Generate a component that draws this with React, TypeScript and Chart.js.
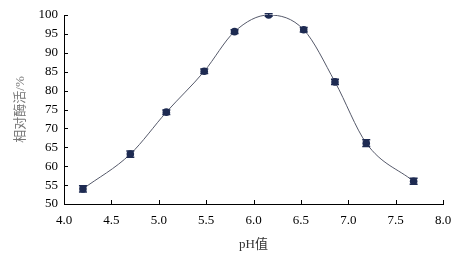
import React, { useEffect, useRef } from "react";
import { Chart, registerables } from "chart.js";

Chart.register(...registerables);

const phValues = [4.2, 4.7, 5.08, 5.48, 5.8, 6.16, 6.53, 6.86, 7.19, 7.69];
const activity = [54.0, 63.2, 74.3, 85.1, 95.6, 100.0, 96.1, 82.3, 66.1, 56.0];
const errors = [0.8, 0.8, 0.6, 0.6, 0.5, 0.3, 0.6, 0.7, 0.9, 0.8];
const xTickMin = 4.0;
const xTickMax = 8.0;
const yTickMin = 50;
const yTickMax = 100;

const FONT = "'Liberation Serif', 'Times New Roman', serif";
const CJK = "'Liberation Serif', 'Noto Sans CJK SC', serif";

const errorBarPlugin = {
  id: "errorBars",
  afterDatasetsDraw(chart: any) {
    const ctx = chart.ctx;
    const xs = chart.scales.x;
    const ys = chart.scales.y;
    ctx.save();
    ctx.strokeStyle = "#1e2b52";
    ctx.lineWidth = 1.5;
    phValues.forEach((p, i) => {
      const x = xs.getPixelForValue(p);
      const yTop = ys.getPixelForValue(activity[i] + errors[i]);
      const yBot = ys.getPixelForValue(activity[i] - errors[i]);
      ctx.beginPath();
      ctx.moveTo(x, yTop);
      ctx.lineTo(x, yBot);
      ctx.moveTo(x - 4, yTop);
      ctx.lineTo(x + 4, yTop);
      ctx.moveTo(x - 4, yBot);
      ctx.lineTo(x + 4, yBot);
      ctx.stroke();
    });
    ctx.restore();
  },
};

const innerTicksPlugin = {
  id: "innerTicks",
  afterDraw(chart: any) {
    const ctx = chart.ctx;
    const xs = chart.scales.x;
    const ys = chart.scales.y;
    const area = chart.chartArea;
    ctx.save();
    ctx.strokeStyle = "#000";
    ctx.lineWidth = 1;
    xs.ticks.forEach((t: any) => {
      const x = Math.round(xs.getPixelForValue(t.value)) + 0.5;
      ctx.beginPath();
      ctx.moveTo(x, area.bottom);
      ctx.lineTo(x, area.bottom - 4);
      ctx.stroke();
    });
    ys.ticks.forEach((t: any) => {
      const y = Math.round(ys.getPixelForValue(t.value)) + 0.5;
      ctx.beginPath();
      ctx.moveTo(area.left, y);
      ctx.lineTo(area.left + 4, y);
      ctx.stroke();
    });
    ctx.restore();
  },
};

export default function App() {
  const ref = useRef<HTMLCanvasElement>(null);
  useEffect(() => {
    if (!ref.current) return;
    const chart = new Chart(ref.current, {
      type: "scatter",
      data: {
        datasets: [
          {
            data: phValues.map((p, i) => ({ x: p, y: activity[i] })),
            showLine: true,
            cubicInterpolationMode: "monotone",
            borderColor: "#55596a",
            borderWidth: 1,
            pointRadius: 3.8,
            pointBackgroundColor: "#1e2b52",
            pointBorderColor: "#1e2b52",
            pointBorderWidth: 0,
          },
        ],
      },
      options: {
        animation: false,
        responsive: false,
        layout: { padding: { top: 15, right: 30, left: 0, bottom: 0 } },
        plugins: { legend: { display: false }, tooltip: { enabled: false } },
        scales: {
          x: {
            type: "linear",
            min: xTickMin,
            max: xTickMax,
            afterFit: (s: any) => {
              s.height = 49;
            },
            grid: { display: false, drawTicks: false },
            border: { display: true, color: "#000", width: 1 },
            ticks: {
              stepSize: 0.5,
              padding: 9,
              color: "#000",
              font: { family: FONT, size: 13 },
              callback: (v: any) => Number(v).toFixed(1),
            },
            title: {
              display: true,
              text: "pH值",
              color: "#333",
              font: { family: CJK, size: 13 },
              padding: { top: 0, bottom: 1 },
            },
          },
          y: {
            min: yTickMin,
            max: yTickMax,
            afterFit: (s: any) => {
              s.width = 64;
            },
            grid: { display: false, drawTicks: false },
            border: { display: true, color: "#000", width: 1 },
            ticks: {
              stepSize: 5,
              padding: 6,
              color: "#000",
              font: { family: FONT, size: 13 },
            },
            title: {
              display: true,
              text: "相对酶活/%",
              color: "#777",
              font: { family: CJK, size: 13 },
              padding: { top: 13, bottom: 0 },
            },
          },
        },
      },
      plugins: [errorBarPlugin, innerTicksPlugin],
    });
    return () => chart.destroy();
  }, []);
  return (
    <div style={{ position: "fixed", left: 0, top: 0, width: 473, height: 253, background: "#fff" }}>
      <canvas ref={ref} width={473} height={253} style={{ display: "block" }} />
    </div>
  );
}
